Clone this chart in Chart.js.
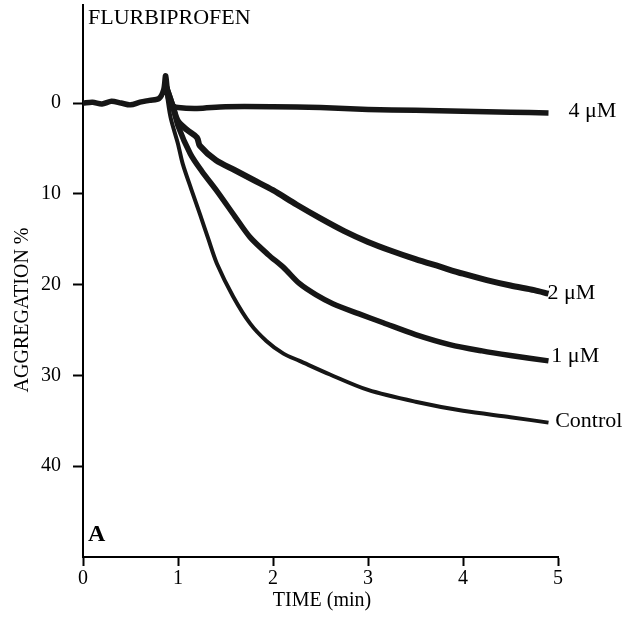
<!DOCTYPE html>
<html>
<head>
<meta charset="utf-8">
<script src="https://cdn.jsdelivr.net/npm/chart.js@4/dist/chart.umd.min.js"></script>
<style>
  body { margin: 0; background: #fff; }
  #wrap { width: 630px; height: 635px; }
</style>
</head>
<body>
<div id="wrap"><canvas id="agg-chart"></canvas></div>
<script>
// values (time in min, aggregation %)
const xTicks = [0, 1, 2, 3, 4, 5];
const yTicks = [0, 10, 20, 30, 40];

const t4uM = [0, 0.1, 0.2, 0.3, 0.4, 0.5, 0.6, 0.7, 0.8, 0.85, 0.87, 0.9, 0.95, 1.0, 1.2, 1.5, 2.0, 2.5, 3.0, 3.5, 4.0, 4.5, 4.9];
const v4uM = [0, -0.1, 0.1, -0.2, 0, 0.2, -0.1, -0.3, -0.5, -1.5, -3.0, -0.5, 0.3, 0.5, 0.6, 0.4, 0.4, 0.5, 0.7, 0.8, 0.9, 1.0, 1.1];

const t2uM = [0.87, 0.95, 1.0, 1.1, 1.2, 1.23, 1.4, 1.6, 1.8, 2.0, 2.25, 2.5, 2.75, 3.0, 3.25, 3.5, 3.75, 4.0, 4.25, 4.5, 4.75, 4.9];
const v2uM = [-2, 0.5, 2, 3, 3.8, 4.7, 6.3, 7.4, 8.5, 9.6, 11.2, 12.7, 14.1, 15.3, 16.3, 17.2, 18.0, 18.8, 19.5, 20.1, 20.6, 21.0];

const t1uM = [0.87, 0.95, 1.0, 1.13, 1.25, 1.41, 1.6, 1.76, 1.95, 2.11, 2.28, 2.45, 2.63, 2.9, 3.16, 3.5, 3.86, 4.2, 4.5, 4.9];
const v1uM = [-2, 0.5, 2.5, 5.6, 7.5, 9.7, 12.5, 14.8, 16.7, 18.1, 19.9, 21.1, 22.1, 23.2, 24.2, 25.5, 26.6, 27.3, 27.8, 28.4];

const tCtrl = [0.87, 0.92, 1.0, 1.05, 1.14, 1.23, 1.32, 1.41, 1.58, 1.76, 1.93, 2.11, 2.28, 2.6, 3.0, 3.5, 4.0, 4.5, 4.9];
const vCtrl = [-2, 1.5, 4.5, 6.7, 9.5, 12.2, 15, 17.7, 21.3, 24.3, 26.2, 27.6, 28.4, 29.9, 31.6, 32.9, 33.9, 34.6, 35.2];

const seriesLabels = ["4 \u03bcM", "2 \u03bcM", "1 \u03bcM", "Control"];
// where each label sits (min, %)
const labelAnchors = [[5.11, 0.9], [4.89, 20.9], [4.93, 27.9], [4.97, 35.0]];

function pts(ts, vs) {
  return ts.map((t, i) => ({ x: t, y: vs[i] }));
}

const ink = "#161616";
const serif = "'Liberation Serif', 'Times New Roman', serif";

// labels at the end of each trace, title, panel letter
const annotations = {
  id: 'annotations',
  afterDraw(chart) {
    const ctx = chart.ctx;
    const xs = chart.scales.x, ys = chart.scales.y;
    ctx.save();
    ctx.fillStyle = "#000";
    ctx.textBaseline = "middle";
    ctx.textAlign = "left";
    ctx.font = "22px " + serif;
    labelAnchors.forEach((e, i) => {
      ctx.fillText(seriesLabels[i], xs.getPixelForValue(e[0]), ys.getPixelForValue(e[1]));
    });
    ctx.fillText("FLURBIPROFEN", 88, 18);
    ctx.font = "bold 24px " + serif;
    ctx.fillText("A", 88, 535);
    ctx.font = "20px " + serif;
    ctx.textAlign = "center";
    ctx.fillText("TIME (min)", 322, 601);
    ctx.translate(23, 310);
    ctx.rotate(-Math.PI / 2);
    ctx.fillText("AGGREGATION %", 0, 0);
    ctx.restore();
  }
};

const lineSet = (data, w) => ({
  data: data,
  borderColor: ink,
  borderWidth: w,
  pointRadius: 0,
  fill: false,
  tension: 0.3
});

new Chart(document.getElementById("agg-chart"), {
  type: 'line',
  data: {
    datasets: [
      lineSet(pts(t4uM, v4uM), 5.5),
      lineSet(pts(t2uM, v2uM), 6),
      lineSet(pts(t1uM, v1uM), 5.5),
      lineSet(pts(tCtrl, vCtrl), 4)
    ]
  },
  options: {
    responsive: true,
    maintainAspectRatio: false,
    animation: false,
    layout: { padding: { top: 5, right: 72, left: 0, bottom: 0 } },
    plugins: {
      legend: { display: false },
      tooltip: { enabled: false }
    },
    scales: {
      x: {
        type: 'linear',
        min: 0,
        max: 5,
        afterBuildTicks: s => { s.ticks = xTicks.map(v => ({ value: v })); },
        afterFit: s => { s.height = 78; s.paddingLeft = 0; s.paddingRight = 0; },
        grid: { drawOnChartArea: false, drawTicks: true, tickLength: 9, tickWidth: 2, tickColor: "#000" },
        border: { display: true, color: "#000", width: 2 },
        ticks: { color: "#000", font: { family: serif, size: 20 }, padding: 1, maxRotation: 0 }
      },
      y: {
        type: 'linear',
        reverse: true,
        min: -10.8,
        max: 50,
        afterBuildTicks: s => { s.ticks = yTicks.map(v => ({ value: v })); },
        afterFit: s => { s.width = 83; s.paddingTop = 0; s.paddingBottom = 0; },
        grid: { drawOnChartArea: false, drawTicks: true, tickLength: 10, tickWidth: 2, tickColor: "#000" },
        border: { display: true, color: "#000", width: 2 },
        ticks: { color: "#000", font: { family: serif, size: 20 }, padding: 12 }
      }
    }
  },
  plugins: [annotations]
});
</script>
</body>
</html>
